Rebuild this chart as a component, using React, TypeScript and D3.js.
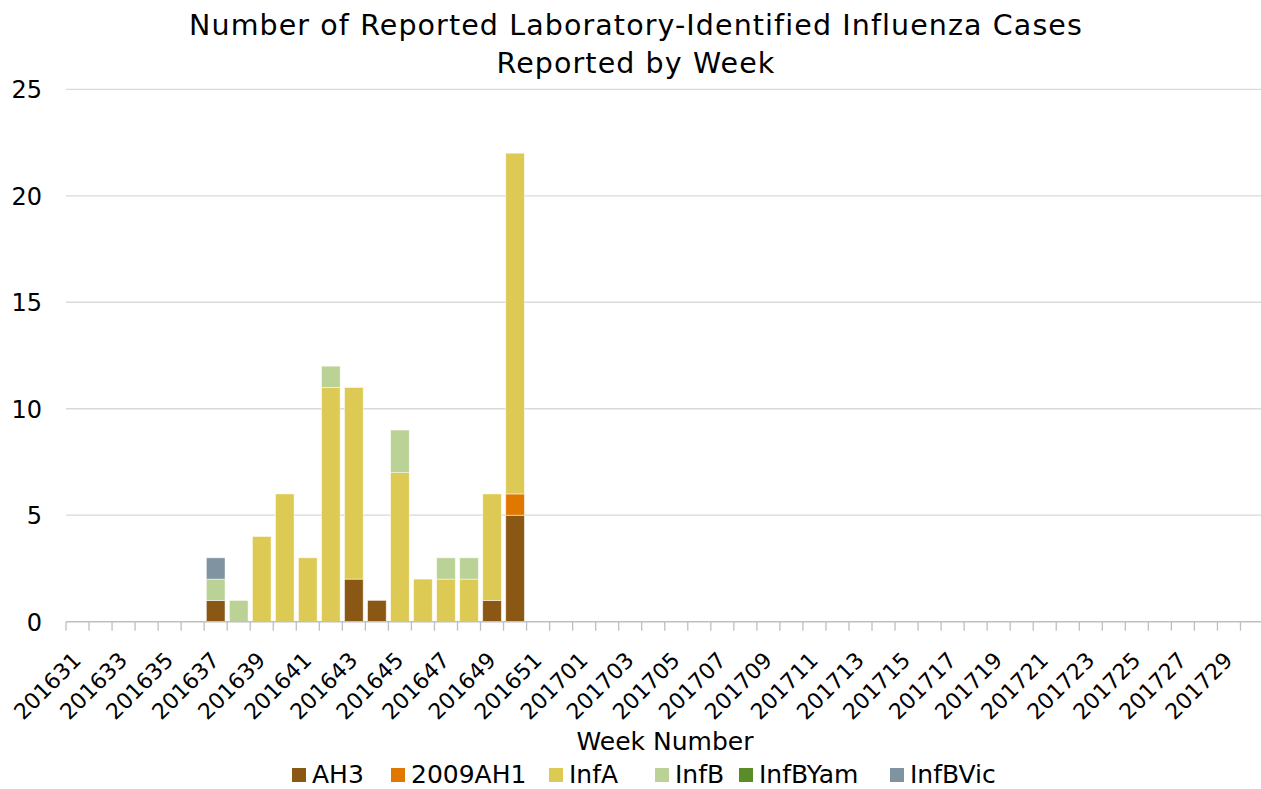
import React from "react";
import * as d3 from "d3";

// weeks 201631..201652, 201701..201730
const weeks: string[] = [
  ...d3.range(31, 53).map((w) => `2016${w}`),
  ...d3.range(1, 31).map((w) => `2017${String(w).padStart(2, "0")}`),
];

const seriesNames = ["AH3", "2009AH1", "InfA", "InfB", "InfBYam", "InfBVic"];
const seriesColors = ["#8B5714", "#E07800", "#DDCA55", "#BBD296", "#5A8C28", "#7F93A1"];

// non-zero counts by week (everything else is 0)
const ah3: Record<string, number> = { "201637": 1, "201643": 2, "201644": 1, "201649": 1, "201650": 5 };
const ah1: Record<string, number> = { "201650": 1 };
const infA: Record<string, number> = {
  "201639": 4, "201640": 6, "201641": 3, "201642": 11, "201643": 9, "201645": 7,
  "201646": 2, "201647": 2, "201648": 2, "201649": 5, "201650": 16,
};
const infB: Record<string, number> = { "201637": 1, "201638": 1, "201642": 1, "201645": 2, "201647": 1, "201648": 1 };
const infBYam: Record<string, number> = {};
const infBVic: Record<string, number> = { "201637": 1 };

const yTicks = [0, 5, 10, 15, 20, 25];

// legend swatch left edges
const legendX = [292, 391, 549, 655, 739, 890];

const FONT = "'DejaVu Sans', sans-serif";

export default function App() {
  const width = 1261;
  const height = 789;
  const x0 = 66;
  const x1 = 1263.5;
  const yBase = 621.7;
  const yTop = 89.3;

  const table = weeks.map((w) => ({
    week: w,
    AH3: ah3[w] ?? 0,
    "2009AH1": ah1[w] ?? 0,
    InfA: infA[w] ?? 0,
    InfB: infB[w] ?? 0,
    InfBYam: infBYam[w] ?? 0,
    InfBVic: infBVic[w] ?? 0,
  }));

  const stacked = d3.stack<any>().keys(seriesNames)(table);

  const x = d3.scaleBand<string>().domain(weeks).range([x0, x1]).paddingInner(0.19).paddingOuter(0.095);
  const xb = d3.scaleBand<string>().domain(weeks).range([x0, x1]);
  const y = d3.scaleLinear().domain([0, 25]).range([yBase, yTop]);

  return (
    <svg width={width} height={height} style={{ position: "absolute", left: 0, top: 0, fontFamily: FONT }}>
      <rect width={width} height={height} fill="white" />
      <text x={636} y={35} textAnchor="middle" fontSize={28.5} letterSpacing={1.1} fill="#000">
        Number of Reported Laboratory-Identified Influenza Cases
      </text>
      <text x={636} y={73} textAnchor="middle" fontSize={28.5} letterSpacing={1.1} fill="#000">
        Reported by Week
      </text>

      {yTicks.filter((t) => t > 0).map((t) => (
        <line key={t} x1={x0} x2={width} y1={y(t)} y2={y(t)} stroke="#D9D9D9" strokeWidth={1.3} />
      ))}
      {yTicks.map((t) => (
        <text key={t} x={42} y={y(t) + 9} textAnchor="end" fontSize={24} fill="#000">
          {t}
        </text>
      ))}

      {stacked.map((s, i) => (
        <g key={seriesNames[i]} fill={seriesColors[i]}>
          {s.map((d: any) =>
            d[1] - d[0] > 0 ? (
              <rect
                key={d.data.week}
                x={x(d.data.week)}
                width={x.bandwidth()}
                y={y(d[1])}
                height={y(d[0]) - y(d[1])}
                stroke="#fff"
                strokeOpacity={0.6}
                strokeWidth={0.8}
              />
            ) : null
          )}
        </g>
      ))}

      <line x1={x0} x2={width} y1={yBase} y2={yBase} stroke="#BFBFBF" strokeWidth={1.5} />
      {weeks.map((w) => (
        <line key={w} x1={xb(w)!} x2={xb(w)!} y1={yBase} y2={yBase + 9} stroke="#BFBFBF" strokeWidth={1.3} />
      ))}
      {weeks.map((w, i) =>
        i % 2 === 0 ? (
          <text
            key={w}
            transform={`translate(${xb(w)! + xb.bandwidth() / 2 + 5},${yBase + 40}) rotate(-45)`}
            textAnchor="end"
            fontSize={22}
            fill="#000"
          >
            {w}
          </text>
        ) : null
      )}

      <text x={665} y={750} textAnchor="middle" fontSize={25} fill="#000">
        Week Number
      </text>

      {seriesNames.map((n, i) => (
        <g key={n} transform={`translate(${legendX[i]},0)`}>
          <rect x={0} y={768} width={14} height={14} fill={seriesColors[i]} />
          <text x={20} y={783} fontSize={25} fill="#000">
            {n}
          </text>
        </g>
      ))}
    </svg>
  );
}
